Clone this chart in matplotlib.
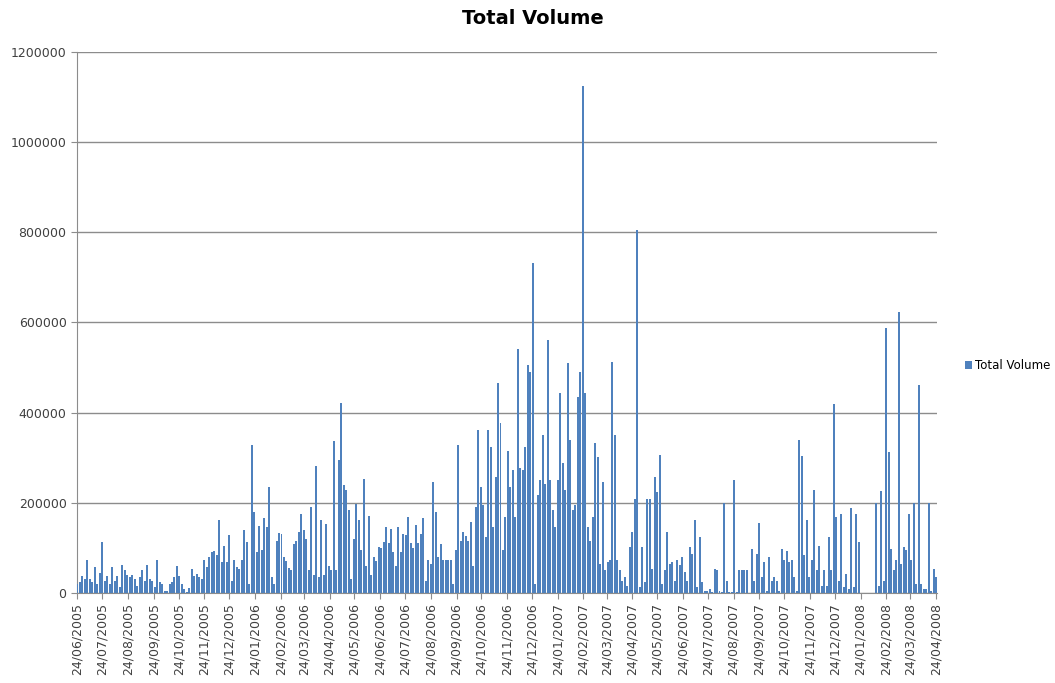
import datetime as dt

import matplotlib
matplotlib.use("Agg")
import matplotlib.pyplot as plt
import matplotlib.dates as mdates
import numpy as np

# one reading every 3 days starting 24/06/2005 (values in thousands)
start_date = dt.date(2005, 6, 24)
end_date = dt.date(2008, 4, 24)
step_days = 3

volume_k = [
    20, 25, 38, 30, 72, 30, 25, 57, 20, 44,
    113, 27, 38, 20, 57, 27, 38, 12, 62, 50, 40,
    35, 40, 30, 15, 35, 50, 27, 61, 30, 27,
    12, 73, 25, 20, 5, 4, 20, 25, 35, 59,
    38, 20, 8, 2, 10, 53, 38, 42, 35, 30,
    72, 57, 80, 90, 93, 85, 161, 68, 105, 68,
    128, 27, 72, 57, 53, 72, 139, 113, 20, 328, 180,
    90, 148, 94, 165, 146, 235, 35, 20, 116, 133,
    131, 80, 70, 55, 50, 109, 115, 135, 174,
    139, 120, 50, 190, 40, 281, 35, 161, 40, 153, 60,
    50, 337, 50, 295, 422, 239, 228, 183, 30, 120,
    197, 161, 95, 252, 60, 170, 40, 79, 70, 102,
    100, 112, 146, 110, 141, 90, 60, 146, 90, 131,
    128, 168, 110, 100, 150, 110, 131, 167, 27, 72,
    65, 246, 180, 79, 109, 72, 72, 72, 72, 20, 94,
    328, 116, 135, 127, 116, 157, 60, 190, 362, 235,
    194, 124, 361, 324, 146, 257, 466, 376, 94, 168,
    314, 235, 272, 168, 542, 276, 272, 324, 505, 490,
    731, 20, 216, 250, 350, 242, 561, 250, 183, 146,
    250, 444, 287, 228, 510, 339, 183, 194, 435, 490, 1125,
    444, 146, 116, 168, 333, 302, 64, 246, 50,
    68, 72, 513, 350, 72, 50, 27, 35, 16, 102,
    135, 209, 805, 12, 102, 24, 209, 209, 53, 257,
    224, 305, 20, 50, 135, 64, 68, 27, 72, 61, 79,
    46, 27, 102, 87, 161, 12, 124, 24, 5, 5,
    9, 2, 53, 50, 3, 2, 200, 27, 2, 2,
    250, 2, 50, 50, 50, 50, 0, 98, 27, 87,
    154, 35, 68, 5, 79, 27, 35, 27, 5, 98,
    72, 93, 68, 72, 35, 5, 339, 303, 83, 161, 35,
    72, 229, 50, 105, 16, 50, 16, 124, 50, 420,
    168, 27, 176, 12, 42, 9, 188, 12, 176, 113,
    0, 0, 0, 0, 0, 0, 200, 16, 227, 27,
    587, 313, 98, 50, 72, 622, 65, 101, 94, 176,
    72, 200, 20, 461, 20, 9, 9, 200, 5, 53, 35,
]

series_name = "Total Volume"
bar_color = "#4F81BD"
grid_color = "#8C8C8C"

dates = [start_date + dt.timedelta(days=step_days * i) for i in range(len(volume_k))]
values = np.array(volume_k) * 1000

fig = plt.figure(figsize=(10.55, 6.83), dpi=100)
ax = fig.add_axes([0.073, 0.132, 0.815, 0.792])

ax.bar(dates, values, width=2.4, color=bar_color, linewidth=0,
       label=series_name, zorder=3)

ax.set_ylim(0, 1200000)
ax.set_yticks(np.arange(0, 1200001, 200000))
ax.yaxis.set_major_formatter(matplotlib.ticker.FuncFormatter(lambda v, p: "%d" % v))
ax.yaxis.grid(True, color=grid_color, linewidth=1.0, zorder=0)

ax.set_xlim(mdates.date2num(start_date) - 0.5, mdates.date2num(end_date) + 1)
ax.xaxis.set_major_locator(mdates.MonthLocator(bymonthday=24))
ax.xaxis.set_major_formatter(mdates.DateFormatter("%d/%m/%Y"))
plt.setp(ax.get_xticklabels(), rotation=90)

for s in ["top", "right"]:
    ax.spines[s].set_visible(False)
for s in ["left", "bottom"]:
    ax.spines[s].set_color(grid_color)
ax.tick_params(axis="both", colors=grid_color, labelcolor="#404040",
               labelsize=9, length=4)

fig.text(0.505, 0.973, series_name, fontsize=14, fontweight="bold",
         ha="center", va="center")

ax.legend(loc="center left", bbox_to_anchor=(1.02, 0.42), frameon=False,
          fontsize=8.5, handlelength=0.6, handleheight=0.6, handletextpad=0.3)

fig.savefig("out.png", dpi=100)
